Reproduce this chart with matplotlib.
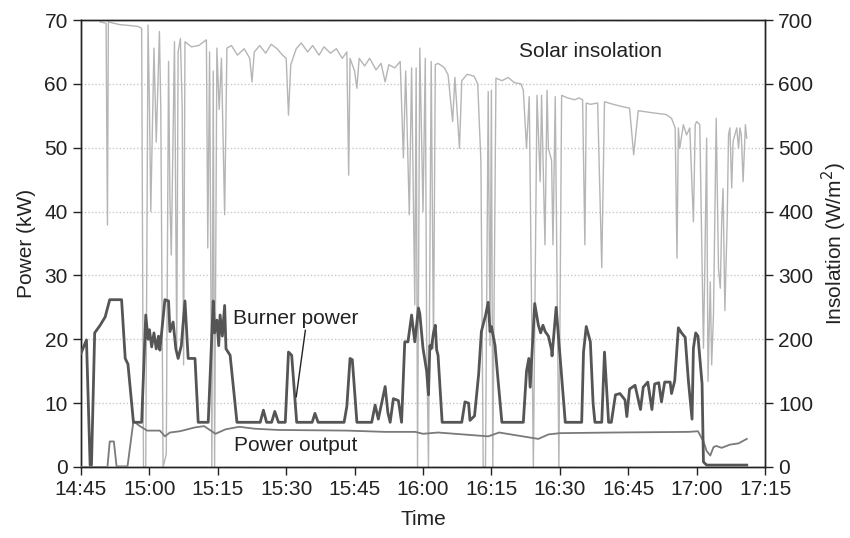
import matplotlib
matplotlib.use("Agg")
import matplotlib.pyplot as plt

plt.rcParams['font.family'] = ['Liberation Sans', 'DejaVu Sans']

# time in minutes after 14:45
tick_labels = ["14:45", "15:00", "15:15", "15:30", "15:45", "16:00", "16:15", "16:30", "16:45", "17:00", "17:15"]

burner_t = [0, 1.2, 2.0, 2.3, 3.0, 4.2, 5.3, 6.3, 8.9, 9.7, 10.3, 11.5, 13.3, 14.2, 14.7, 15.0, 15.5, 16.0,
            16.5, 17.0, 17.3, 18.4, 19.2, 19.5, 20.2, 20.8, 21.3, 22.0, 22.8, 23.5, 25.0, 25.7, 27.9, 29.0,
            29.3, 29.8, 30.2, 30.5, 31.0, 31.5, 31.8, 32.7, 33.3, 34.2, 39.3, 40.0, 40.7, 41.8, 42.5, 43.3,
            44.8, 45.5, 46.2, 47.3, 50.7, 51.3, 52.0, 57.7, 58.3, 59.0, 59.5, 60.5, 63.75, 64.5, 65.2, 66.7,
            67.3, 67.8, 68.5, 69.6, 70.3, 71.0, 71.7, 72.5, 73.2, 74.0, 74.3, 75.0, 75.8, 76.2, 76.5, 76.8,
            77.3, 77.7, 78.0, 78.3, 79.2, 83.5, 84.2, 85.0, 85.3, 86.3, 87.2, 87.8, 88.7, 89.3, 89.7, 90.0,
            90.8, 91.5, 92.3, 97.0, 97.7, 98.2, 98.5, 99.5, 100.3, 100.8, 101.3, 101.8, 102.5, 103.2, 103.3,
            104.2, 104.7, 106.2, 109.8, 110.2, 110.8, 111.7, 112.3, 112.7, 114.2, 114.8, 115.7, 116.3,
            117.2, 118.2, 119.3, 119.7, 120.3, 121.5, 122.7, 123.3, 124.3, 125.2, 125.8, 126.7, 127.3,
            128.0, 129.2, 129.5, 130.2, 131.0, 131.7, 132.5, 133.2, 134.0, 134.3, 134.8, 135.3, 136.2,
            136.5, 137.2, 146.0]
burner_kw = [17.8, 19.9, 0.3, 0.3, 21.0, 22.2, 23.5, 26.2, 26.2, 17.0, 16.1, 7.0, 7.0, 23.8, 20.0, 21.5, 18.8,
             21.0, 18.5, 20.5, 18.3, 26.2, 26.0, 21.2, 22.7, 18.5, 17.0, 19.0, 26.0, 17.0, 17.0, 7.0, 7.0,
             26.0, 21.0, 23.0, 19.0, 23.8, 20.5, 25.3, 18.5, 17.5, 13.3, 7.0, 7.0, 8.9, 7.0, 7.0, 8.7, 7.0,
             7.0, 18.0, 17.5, 7.0, 7.0, 8.4, 7.0, 7.0, 9.5, 17.0, 16.8, 7.0, 7.0, 9.7, 7.5, 12.6, 8.5, 7.0,
             10.7, 10.4, 7.0, 19.6, 19.6, 23.8, 19.6, 24.9, 24.0, 18.6, 15.0, 11.3, 19.0, 18.5, 21.0, 22.2,
             18.3, 17.5, 7.0, 7.0, 10.2, 10.0, 7.3, 8.0, 14.5, 21.2, 23.7, 25.8, 21.2, 22.0, 19.0, 13.3, 7.0,
             7.0, 15.0, 17.0, 12.5, 25.6, 22.2, 21.0, 22.2, 21.2, 20.5, 18.3, 17.4, 25.0, 20.5, 7.0, 7.0,
             18.0, 22.0, 19.6, 10.0, 7.0, 7.0, 18.0, 7.0, 7.0, 11.3, 11.5, 10.5, 7.9, 12.2, 12.8, 9.0, 12.5,
             13.3, 9.0, 13.0, 13.2, 10.2, 13.3, 13.3, 11.5, 13.5, 21.8, 21.0, 20.3, 13.5, 7.5, 18.6, 21.0,
             20.5, 13.0, 0.8, 0.3, 0.3]

output_t = [0, 5.8, 6.3, 7.2, 7.8, 10.2, 11.5, 12.7, 14.5, 17.3, 18.4, 19.5, 21.7, 25.0, 27.0, 29.5, 31.7,
            34.7, 38.0, 43.3, 58.3, 66.7, 73.3, 75.0, 78.3, 89.3, 91.7, 100.3, 102.5, 105.0, 116.7, 133.3,
            135.3, 136.5, 137.2, 138.0, 138.7, 139.3, 140.5, 142.3, 144.2, 146.0]
output_kw = [0.0, 0.0, 4.0, 4.0, 0.1, 0.1, 7.2, 6.5, 5.7, 5.7, 4.8, 5.4, 5.6, 6.2, 6.4, 5.2, 5.9, 6.3, 6.0,
             5.8, 5.7, 5.5, 5.5, 5.2, 5.4, 4.8, 5.4, 4.4, 5.1, 5.3, 5.4, 5.5, 5.6, 4.0, 2.5, 1.8, 3.1, 3.3,
             3.0, 3.5, 3.7, 4.4]

insol_t = [4.2, 5.5, 5.8, 6.0, 8.3, 12.5, 13.3, 13.7, 14.2, 14.7, 15.0, 15.3, 16.0, 16.5, 17.2, 17.5, 18.0,
           18.7, 19.2, 19.5, 19.8, 20.5, 21.0, 21.3, 21.8, 22.2, 22.5, 22.8, 24.2, 25.8, 27.5, 27.8, 28.2,
           28.7, 29.0, 29.3, 29.8, 30.3, 30.8, 31.5, 32.0, 33.0, 34.3, 35.8, 37.0, 37.5, 38.0, 39.2, 40.5,
           41.7, 43.0, 44.2, 45.0, 45.5, 46.0, 47.2, 48.3, 49.7, 50.8, 52.2, 53.3, 54.7, 56.0, 57.3, 58.3,
           58.7, 59.0, 60.0, 60.5, 61.0, 62.2, 63.3, 64.7, 65.8, 66.7, 67.5, 68.8, 70.0, 70.7, 71.2, 72.0,
           72.5, 73.2, 73.5, 73.8, 74.3, 75.0, 75.5, 75.8, 76.2, 76.8, 77.3, 77.7, 78.3, 79.2, 79.7, 80.5,
           81.5, 82.0, 83.0, 83.5, 84.7, 86.2, 87.0, 87.7, 88.2, 88.7, 89.3, 89.7, 90.0, 90.3, 91.0, 92.3,
           93.7, 95.0, 96.5, 97.0, 97.7, 98.3, 99.2, 100.0, 100.7, 101.0, 101.75, 102.2, 102.5, 103.2,
           103.5, 104.0, 104.8, 105.4, 106.7, 108.3, 109.2, 110.0, 110.5, 110.8, 111.7, 113.3, 114.2,
           114.8, 116.7, 118.3, 120.3, 121.2, 122.2, 125.0, 128.3, 129.5, 130.3, 130.7, 131.0, 131.3,
           132.1, 132.8, 133.5, 134.3, 134.7, 135.0, 135.7, 136.5, 136.8, 137.2, 137.5, 138.0, 138.3,
           138.7, 139.3, 139.8, 140.2, 140.5, 140.8, 141.2, 141.7, 142.0, 142.3, 142.7, 143.0, 143.8,
           144.2, 144.5, 144.8, 145.2, 145.7, 146.0]
insol_w = [697, 695, 379, 697, 693, 690, 687, 0, 0, 692, 572, 400, 656, 509, 682, 560, 0, 20, 635, 420, 332,
           666, 186, 650, 671, 560, 160, 666, 658, 660, 669, 343, 650, 0, 620, 0, 656, 560, 640, 395, 656,
           660, 645, 655, 640, 603, 650, 660, 648, 662, 655, 645, 640, 551, 630, 655, 664, 650, 660, 645,
           658, 648, 655, 640, 650, 457, 640, 620, 593, 640, 628, 640, 622, 632, 603, 630, 625, 635, 484,
           620, 395, 625, 254, 625, 0, 656, 400, 640, 200, 0, 635, 186, 630, 632, 628, 625, 614, 541, 610,
           499, 605, 615, 612, 600, 478, 0, 0, 588, 190, 590, 0, 609, 605, 610, 602, 600, 590, 499, 580, 0,
           582, 447, 582, 348, 590, 499, 480, 348, 580, 0, 582, 578, 575, 578, 575, 348, 570, 568, 570, 312,
           572, 568, 565, 562, 489, 558, 555, 552, 546, 531, 327, 531, 499, 536, 520, 531, 384, 536, 541,
           536, 186, 311, 515, 134, 290, 160, 238, 546, 311, 280, 384, 436, 245, 384, 520, 531, 437, 510,
           531, 499, 531, 520, 447, 536, 515]

fig = plt.figure(figsize=(8.5, 5.38), dpi=100)
ax = fig.add_axes([81 / 850, 1 - 467 / 538, (765 - 81) / 850, (467 - 20) / 538])
ax2 = ax.twinx()

ax.set_zorder(ax2.get_zorder() + 1)
ax.patch.set_visible(False)

ax2.grid(True, axis='x', color='#c8c8c8', linestyle=(0, (1, 1.5)), linewidth=1.0)
ax2.grid(True, axis='y', color='#c8c8c8', linestyle=(0, (1, 1.5)), linewidth=1.0)

ax2.plot(insol_t, insol_w, color='#b5b5b5', linewidth=1.0, zorder=2)
ax.plot(output_t, output_kw, color='#7a7a7a', linewidth=1.3, zorder=3)
ax.plot(burner_t, burner_kw, color='#555555', linewidth=2.0, zorder=4)

ax.set_xlim(0, 150)
ax.set_ylim(0, 70)
ax2.set_ylim(0, 700)
ax.set_xticks(range(0, 151, 15))
ax.set_xticklabels(tick_labels)
ax.set_yticks(range(0, 71, 10))
ax2.set_yticks(range(0, 701, 100))

fs = 15
for a in (ax, ax2):
    a.tick_params(labelsize=fs, colors='#222222', length=6, width=1.0, direction='out')
    for s in a.spines.values():
        s.set_color('#222222')
        s.set_linewidth(1.0)

ax.set_xlabel('Time', fontsize=fs, color='#222222', labelpad=8)
ax.set_ylabel('Power (kW)', fontsize=fs, color='#222222', labelpad=6)
ax2.set_ylabel('Insolation (W/m$^2$)', fontsize=fs, color='#222222', labelpad=5)

ax.text(111.7, 65.0, 'Solar insolation', fontsize=fs, color='#222222', ha='center', va='center')
ax.text(47.0, 23.3, 'Burner power', fontsize=fs, color='#222222', ha='center', va='center')
ax.text(47.0, 3.4, 'Power output', fontsize=fs, color='#222222', ha='center', va='center')
ax.plot([49.2, 47.2], [21.4, 11.0], color='#222222', linewidth=1.0, zorder=5)

fig.savefig('out.png', dpi=100)
